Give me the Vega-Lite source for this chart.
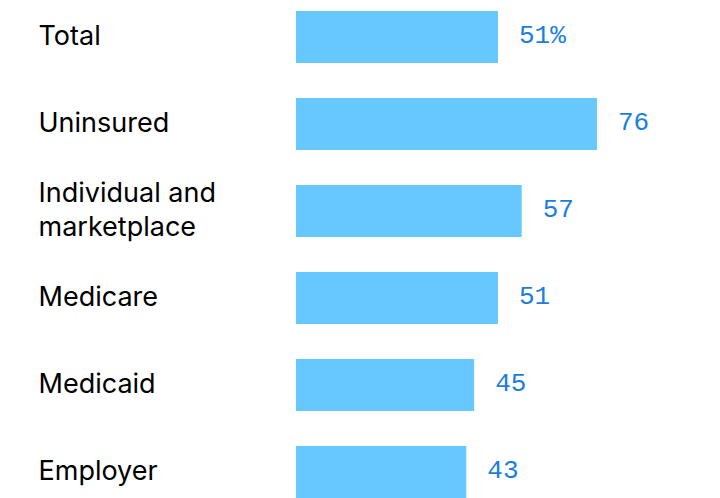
{
  "$schema": "https://vega.github.io/schema/vega-lite/v6.json",
  "width": 396,
  "height": 498,
  "padding": {"left": 38, "top": 0, "right": 0, "bottom": 0},
  "background": "white",
  "config": {"view": {"stroke": null}},
  "data": {
    "values": [
      {"category": "Total", "value": 51, "label": "51%"},
      {"category": "Uninsured", "value": 76, "label": "76"},
      {"category": "Individual and|marketplace", "value": 57, "label": "57"},
      {"category": "Medicare", "value": 51, "label": "51"},
      {"category": "Medicaid", "value": 45, "label": "45"},
      {"category": "Employer", "value": 43, "label": "43"}
    ]
  },
  "encoding": {
    "y": {
      "field": "category",
      "type": "nominal",
      "sort": null,
      "scale": {"paddingInner": 0.402, "paddingOuter": 0.0632, "align": 1},
      "axis": {
        "title": null,
        "domain": false,
        "ticks": false,
        "labelAlign": "left",
        "labelPadding": 258,
        "labelFont": "Inter",
        "labelFontSize": 27,
        "labelColor": "#000000",
        "labelLineHeight": 34,
        "labelLimit": 300,
        "labelOffset": {"condition": {"test": "indexof(datum.label, '|') >= 0", "value": -17}, "value": 0},
        "labelExpr": "split(datum.label, '|')"
      }
    },
    "x": {
      "field": "value",
      "type": "quantitative",
      "scale": {"domain": [0, 100]},
      "axis": null
    }
  },
  "layer": [
    {"mark": {"type": "bar", "color": "#66c8ff"}},
    {
      "mark": {
        "type": "text",
        "align": "left",
        "baseline": "middle",
        "dx": 21,
        "dy": -2,
        "font": "Liberation Mono",
        "fontSize": 26,
        "color": "#1a7fdc"
      },
      "encoding": {"text": {"field": "label"}}
    }
  ]
}
